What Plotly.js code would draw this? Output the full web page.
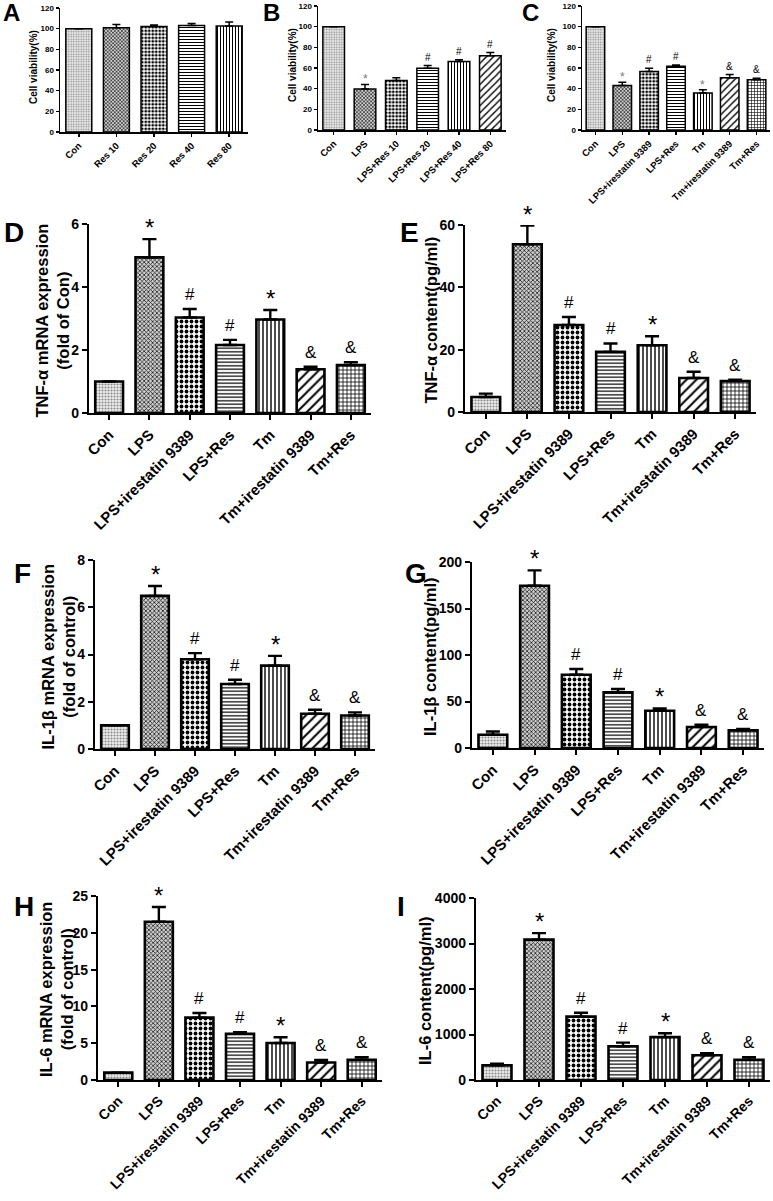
<!DOCTYPE html>
<html>
<head>
<meta charset="utf-8">
<script src="https://cdn.plot.ly/plotly-3.0.1.min.js"></script>
<style>html,body{margin:0;padding:0;background:#fff;overflow:hidden;}#chart{width:773px;height:1201px;}</style>
</head>
<body>
<div id="chart"></div>
<script>
// ---------- DATA ----------
const catsA = ['Con','Res 10','Res 20','Res 40','Res 80'];
const valsA = [100, 101, 102, 103, 102.5];
const errA  = [0, 3, 1.5, 2, 4];
const sigA  = ['', '', '', '', ''];

const catsB = ['Con','LPS','LPS+Res 10','LPS+Res 20','LPS+Res 40','LPS+Res 80'];
const valsB = [100, 39.6, 47.9, 59.7, 66.4, 71.9];
const errB  = [0, 4.5, 2.6, 2.6, 1.6, 3.1];
const sigB  = ['', '*', '', '#', '#', '#'];

const catsC = ['Con','LPS','LPS+irestatin 9389','LPS+Res','Tm','Tm+irestatin 9389','Tm+Res'];
const valsC = [100, 43.1, 56.6, 61.6, 35.8, 50.5, 48.6];
const errC  = [0, 3.2, 3.1, 1.3, 3.2, 3.2, 1.5];
const sigC  = ['', '*', '#', '#', '*', '&', '&'];

const catsDI = ['Con','LPS','LPS+irestatin 9389','LPS+Res','Tm','Tm+irestatin 9389','Tm+Res'];
const sigDI  = ['', '*', '#', '#', '*', '&', '&'];

const valsD = [1.0, 4.94, 3.03, 2.16, 2.97, 1.39, 1.52];
const errD  = [0, 0.58, 0.27, 0.16, 0.30, 0.08, 0.09];

const valsE = [4.8, 53.8, 27.9, 19.3, 21.4, 10.9, 9.9];
const errE  = [1.1, 6.0, 2.6, 2.7, 2.9, 2.0, 0.5];

const valsF = [1.0, 6.48, 3.80, 2.75, 3.53, 1.49, 1.42];
const errF  = [0, 0.42, 0.26, 0.18, 0.41, 0.17, 0.13];

const valsG = [14.3, 174.5, 78.8, 59.8, 40.1, 22.6, 18.9];
const errG  = [3.5, 16.5, 6.2, 3.6, 2.5, 2.4, 1.5];

const valsH = [1.0, 21.5, 8.47, 6.27, 5.03, 2.38, 2.74];
const errH  = [0, 2.0, 0.63, 0.23, 0.77, 0.36, 0.36];

const valsI = [321, 3086, 1393, 743, 943, 544, 443];
const errI  = [36, 143, 86, 79, 86, 43, 57];

const ytitleAC = 'Cell viability(%)';
const ytitleD = 'TNF-α mRNA expression<br>(fold of Con)';
const ytitleE = 'TNF-α content(pg/ml)';
const ytitleF = 'IL-1β mRNA expression<br>(fold of control)';
const ytitleG = 'IL-1β content(pg/ml)';
const ytitleH = 'IL-6 mRNA expression<br>(fold of control)';
const ytitleI = 'IL-6 content(pg/ml)';

// ---------- STYLE / LAYOUT ----------
const W = 773, H = 1201;
const FONT = 'Arial, "Liberation Sans", sans-serif';

const patBig = {
  con: {shape:'.', fg:'#8a8a8a', bg:'#eeeeee', size:3, sol:0.4},
  lps: {shape:'x', fg:'#1a1a1a', bg:'#cfcfcf', size:3, sol:0.45},
  chk: {shape:'.', fg:'#000000', bg:'#ffffff', size:5, sol:0.45},
  hor: {shape:'-', fg:'#000000', bg:'#ffffff', size:3.5, sol:0.35},
  ver: {shape:'|', fg:'#000000', bg:'#ffffff', size:4, sol:0.35},
  dia: {shape:'/', fg:'#000000', bg:'#ffffff', size:7, sol:0.28},
  grd: {shape:'+', fg:'#000000', bg:'#ffffff', size:4, sol:0.35}
};
const patSmall = {
  con: {shape:'.', fg:'#8a8a8a', bg:'#eeeeee', size:2.5, sol:0.4},
  lps: {shape:'x', fg:'#1a1a1a', bg:'#cfcfcf', size:2.5, sol:0.45},
  chk: {shape:'.', fg:'#000000', bg:'#ffffff', size:3.5, sol:0.5},
  hor: {shape:'-', fg:'#000000', bg:'#ffffff', size:3, sol:0.35},
  ver: {shape:'|', fg:'#000000', bg:'#ffffff', size:3, sol:0.35},
  dia: {shape:'/', fg:'#000000', bg:'#ffffff', size:5, sol:0.28},
  grd: {shape:'+', fg:'#000000', bg:'#ffffff', size:3, sol:0.35}
};
const pats7 = ['con','lps','chk','hor','ver','dia','grd'];

const panels = [
  {L:'A', cats:catsA, vals:valsA, errs:errA, sig:sigA, pats:['con','lps','chk','hor','ver'], ymax:120, dtick:20, box:[60,248,8,132], small:true, letter:[11,13], yt:ytitleAC, ytx:33, xfs:9.5},
  {L:'B', cats:catsB, vals:valsB, errs:errB, sig:sigB, pats:['con','lps','chk','hor','ver','dia'], ymax:120, dtick:20, box:[318,506,6,130], small:true, letter:[271,13], yt:ytitleAC, ytx:293, xfs:9.5},
  {L:'C', cats:catsC, vals:valsC, errs:errC, sig:sigC, pats:pats7, ymax:120, dtick:20, box:[582,770,6,130], small:true, letter:[530,13], yt:ytitleAC, ytx:552, xfs:9.5},
  {L:'D', cats:catsDI, vals:valsD, errs:errD, sig:sigDI, pats:pats7, ymax:6, dtick:2, box:[89,371,224,413], small:false, letter:[14,233], yt:ytitleD, ytx:52, xfs:15},
  {L:'E', cats:catsDI, vals:valsE, errs:errE, sig:sigDI, pats:pats7, ymax:60, dtick:20, box:[465,756,225,412], small:false, letter:[409,233], yt:ytitleE, ytx:430, xfs:15},
  {L:'F', cats:catsDI, vals:valsF, errs:errF, sig:sigDI, pats:pats7, ymax:8, dtick:2, box:[95,375,560,749], small:false, letter:[22,573], yt:ytitleF, ytx:58, xfs:15},
  {L:'G', cats:catsDI, vals:valsG, errs:errG, sig:sigDI, pats:pats7, ymax:200, dtick:50, box:[472,764,562,748], small:false, letter:[416,573], yt:ytitleG, ytx:430, xfs:15},
  {L:'H', cats:catsDI, vals:valsH, errs:errH, sig:sigDI, pats:pats7, ymax:25, dtick:5, box:[98,382,896,1080], small:false, letter:[24,906], yt:ytitleH, ytx:57, xfs:14},
  {L:'I', cats:catsDI, vals:valsI, errs:errI, sig:sigDI, pats:pats7, ymax:4000, dtick:1000, box:[476,770,898,1080], small:false, letter:[401,906], yt:ytitleI, ytx:425, xfs:14}
];

const traces = [];
const layout = {
  width: W, height: H,
  margin: {l:0, r:0, t:0, b:0},
  paper_bgcolor: '#fff', plot_bgcolor: 'rgba(0,0,0,0)',
  showlegend: false,
  bargap: 0.31,
  font: {family: FONT, color: '#000'},
  annotations: []
};

panels.forEach((p, i) => {
  const n = i + 1;
  const xa = 'x' + (n === 1 ? '' : n), ya = 'y' + (n === 1 ? '' : n);
  const xk = 'xaxis' + (n === 1 ? '' : n), yk = 'yaxis' + (n === 1 ? '' : n);
  const [l, r, t, b] = p.box;
  const pt = p.small ? patSmall : patBig;
  const sm = p.small;
  traces.push({
    type: 'bar', x: p.cats, y: p.vals, xaxis: xa, yaxis: ya,
    marker: {
      color: '#ffffff',
      line: {color: '#000', width: sm ? 1.5 : 2.6},
      pattern: {
        shape: p.pats.map(k => pt[k].shape),
        fgcolor: p.pats.map(k => pt[k].fg),
        bgcolor: p.pats.map(k => pt[k].bg),
        size: p.pats.map(k => pt[k].size),
        solidity: p.pats.map(k => pt[k].sol),
        fillmode: 'replace'
      }
    },
    error_y: {
      type: 'data', symmetric: false, array: p.errs, arrayminus: p.errs.map(() => 0),
      color: '#000', thickness: sm ? 1.5 : 2.4, width: sm ? 4 : 7
    },
    hoverinfo: 'none'
  });
  layout[xk] = {
    domain: [l / W, r / W], anchor: ya, type: 'category',
    range: [-0.5, p.cats.length - 0.5],
    showline: true, linecolor: '#000', linewidth: sm ? 1.5 : 2.2,
    ticks: 'outside', ticklen: sm ? 3 : 5, tickwidth: sm ? 1.5 : 2, tickcolor: '#000',
    tickangle: -45, showgrid: false, zeroline: false, fixedrange: true,
    ticklabeloverflow: 'allow', automargin: false,
    tickfont: {family: FONT, size: p.xfs, weight: 'bold', color: '#000'}
  };
  layout[yk] = {
    domain: [1 - b / H, 1 - t / H], anchor: xa,
    range: [0, p.ymax], dtick: p.dtick, tick0: 0,
    showline: true, linecolor: '#000', linewidth: sm ? 1.5 : 2.2,
    ticks: 'outside', ticklen: sm ? 3 : 5, tickwidth: sm ? 1.5 : 2, tickcolor: '#000',
    showgrid: false, zeroline: false, fixedrange: true,
    ticklabeloverflow: 'allow', automargin: false,
    tickfont: {family: FONT, size: sm ? 8 : 14, weight: 'bold', color: '#000'}
  };
  // panel letter
  layout.annotations.push({
    xref: 'paper', yref: 'paper', x: p.letter[0] / W, y: 1 - p.letter[1] / H,
    xanchor: 'center', yanchor: 'middle', showarrow: false,
    text: p.L, font: {family: FONT, size: sm ? 24 : 28, weight: 'bold', color: '#000'}
  });
  // y title
  layout.annotations.push({
    xref: 'paper', yref: 'paper', x: p.ytx / W, y: 1 - ((t + b) / 2 + (sm ? -3 : 2)) / H,
    xanchor: 'center', yanchor: 'middle', showarrow: false, textangle: -90,
    text: p.yt, font: {family: FONT, size: sm ? 10 : 16.5, weight: 'bold', color: '#000'}
  });
  // significance marks
  p.sig.forEach((s, j) => {
    if (!s) return;
    const star = s === '*';
    layout.annotations.push({
      xref: xa, yref: ya, x: p.cats[j], y: p.vals[j] + p.errs[j],
      xanchor: 'center', yanchor: 'bottom', showarrow: false,
      yshift: star ? (sm ? -4 : -4) : (sm ? 1 : 3),
      text: s,
      font: {family: FONT, size: star ? (sm ? 12 : 24) : (sm ? 10 : 17), color: (sm && star) ? '#777' : '#000'}
    });
  });
});

Plotly.newPlot('chart', traces, layout, {displayModeBar: false, staticPlot: true});
</script>
</body>
</html>
